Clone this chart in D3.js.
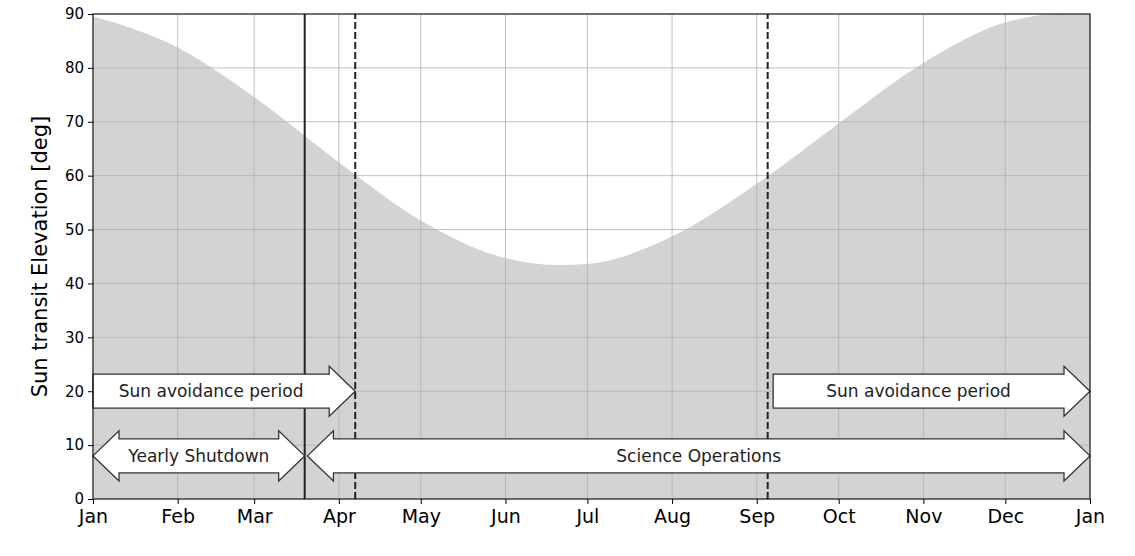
<!DOCTYPE html>
<html><head><meta charset="utf-8">
<script src="https://cdn.jsdelivr.net/npm/d3@7"></script>
<style>body{margin:0;background:#fff;font-family:"DejaVu Sans",sans-serif;}</style>
</head><body>
<script>
// day of year, sun transit elevation (deg)
var curveDays = [0, 31, 59, 90, 120, 151, 171, 181, 212, 243, 273, 304, 334, 354, 365];
var curveElev = [89.6, 83.8, 74.6, 62.5, 51.7, 44.7, 43.4, 43.6, 48.7, 58.5, 69.7, 80.9, 88.4, 90, 89.8];
var monthDays = [0, 31, 59, 90, 120, 151, 181, 212, 243, 273, 304, 334, 365];
var monthLabels = ["Jan","Feb","Mar","Apr","May","Jun","Jul","Aug","Sep","Oct","Nov","Dec","Jan"];
var yTicks = [0,10,20,30,40,50,60,70,80,90];
var solidLines = [77.5];
var dashedLines = [96, 247];
// arrows: [startDay, endDay, elevation, label, doubleHeaded]
var arrows = [
  [0, 96, 20, "Sun avoidance period", false],
  [249, 365, 20, "Sun avoidance period", false],
  [0, 77.5, 8, "Yearly Shutdown", true],
  [78.5, 365, 8, "Science Operations", true]
];

var width = 1135, height = 556;
var m = {left: 93, right: 45, top: 14, bottom: 57};

var svg = d3.select("body").append("svg").attr("width", width).attr("height", height);
var x = d3.scaleLinear().domain([0, 365]).range([m.left, width - m.right]);
var y = d3.scaleLinear().domain([0, 90]).range([height - m.bottom, m.top]);

var pts = curveDays.map(function(d, i){ return [d, curveElev[i]]; });
svg.append("path")
  .datum(pts)
  .attr("fill", "#d3d3d3")
  .attr("d", d3.area().x(function(d){ return x(d[0]); }).y0(y(0)).y1(function(d){ return y(d[1]); }).curve(d3.curveMonotoneX));

// grid
svg.selectAll(".vg").data(monthDays).enter().append("line")
  .attr("x1", function(d){ return x(d); }).attr("x2", function(d){ return x(d); })
  .attr("y1", y(0)).attr("y2", y(90)).attr("stroke", "#b0b0b0").attr("stroke-width", 0.8);
svg.selectAll(".hg").data(yTicks).enter().append("line")
  .attr("y1", function(d){ return y(d); }).attr("y2", function(d){ return y(d); })
  .attr("x1", x(0)).attr("x2", x(365)).attr("stroke", "#b0b0b0").attr("stroke-width", 0.8);

svg.selectAll(".sl").data(solidLines).enter().append("line")
  .attr("x1", function(d){ return x(d); }).attr("x2", function(d){ return x(d); })
  .attr("y1", y(0)).attr("y2", y(90)).attr("stroke", "#222").attr("stroke-width", 2);
svg.selectAll(".dl").data(dashedLines).enter().append("line")
  .attr("x1", function(d){ return x(d); }).attr("x2", function(d){ return x(d); })
  .attr("y1", y(0)).attr("y2", y(90)).attr("stroke", "#222").attr("stroke-width", 2)
  .attr("stroke-dasharray", "7,3");

// arrows
var bh = 17, hh = 25, hl = 26;
arrows.forEach(function(a){
  var x0 = x(a[0]), x1 = x(a[1]), cy = y(a[2]);
  var p;
  if (a[4]) {
    p = [[x0, cy], [x0 + hl, cy - hh], [x0 + hl, cy - bh], [x1 - hl, cy - bh], [x1 - hl, cy - hh], [x1, cy],
         [x1 - hl, cy + hh], [x1 - hl, cy + bh], [x0 + hl, cy + bh], [x0 + hl, cy + hh]];
  } else {
    p = [[x0, cy - bh], [x1 - hl, cy - bh], [x1 - hl, cy - hh], [x1, cy], [x1 - hl, cy + hh], [x1 - hl, cy + bh], [x0, cy + bh]];
  }
  svg.append("polygon").attr("points", p.map(function(q){ return q.join(","); }).join(" "))
    .attr("fill", "#fff").attr("stroke", "#333").attr("stroke-width", 1.3);
  svg.append("text").attr("x", a[4] ? (x0 + x1) / 2 : (x0 + x1 - hl) / 2).attr("y", cy)
    .attr("dy", "0.35em").attr("text-anchor", "middle").attr("font-size", 17).attr("fill", "#222")
    .text(a[3]);
});

svg.append("rect").attr("x", x(0)).attr("y", y(90)).attr("width", x(365) - x(0)).attr("height", y(0) - y(90))
  .attr("fill", "none").attr("stroke", "#000").attr("stroke-width", 1);

var xa = svg.append("g").attr("transform", "translate(0," + y(0) + ")")
  .call(d3.axisBottom(x).tickValues(monthDays).tickFormat(function(d, i){ return monthLabels[i]; }).tickSize(5).tickPadding(6));
xa.select(".domain").remove();
xa.selectAll("text").attr("font-size", 19).attr("fill", "#000").attr("font-family", "DejaVu Sans");
var ya = svg.append("g").attr("transform", "translate(" + x(0) + ",0)")
  .call(d3.axisLeft(y).tickValues(yTicks).tickSize(5).tickPadding(4));
ya.select(".domain").remove();
ya.selectAll("text").attr("font-size", 15).attr("fill", "#000").attr("font-family", "DejaVu Sans");

svg.append("text").attr("transform", "translate(47," + (y(45)) + ") rotate(-90)")
  .attr("text-anchor", "middle").attr("font-size", 21).text("Sun transit Elevation [deg]");
</script>
</body></html>
